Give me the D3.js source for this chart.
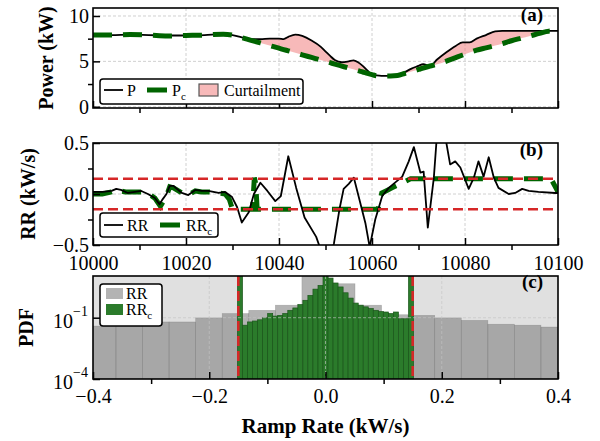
<!DOCTYPE html>
<html>
<head>
<meta charset="utf-8">
<script src="https://cdn.jsdelivr.net/npm/d3@7"></script>
<style>
  body { margin: 0; background: #fff; }
  text { font-family: 'Liberation Serif', 'Times New Roman', serif; }
</style>
</head>
<body>
<div id="chart"></div>
<script>
// ---- data ----
// (a) power and curtailed power, shared time grid (s)
var tP = [10000, 10004, 10008, 10012, 10016, 10020, 10024, 10028, 10030, 10032, 10034, 10036, 10038, 10040,
  10041, 10042, 10043.5, 10045, 10047, 10049, 10050, 10051, 10052, 10053.5, 10055, 10056, 10057, 10058, 10059,
  10060, 10061, 10062, 10064, 10065.5, 10067, 10068.5, 10070, 10071, 10072.5, 10074, 10076, 10078, 10079.5,
  10081, 10082.5, 10084.5, 10086.5, 10088, 10090, 10092, 10094, 10096, 10098, 10100];
var pVals = [7.90, 7.90, 7.95, 7.90, 7.85, 7.85, 7.90, 8.00, 7.90, 7.65, 7.45, 7.45, 7.50, 7.50,
  7.45, 7.70, 7.95, 7.80, 7.30, 6.60, 6.10, 5.60, 5.15, 4.90, 5.00, 5.10, 4.90, 4.50, 4.00,
  3.55, 3.45, 3.40, 3.40, 3.45, 3.80, 4.20, 4.50, 4.70, 4.50, 5.20, 6.00, 6.70, 7.10,
  7.10, 7.50, 7.90, 8.30, 8.35, 8.35, 8.35, 8.35, 8.35, 8.35, 8.35];
var pcVals = [7.90, 7.90, 7.95, 7.90, 7.80, 7.85, 7.90, 8.00, 7.90, 7.62, 7.32, 7.03, 6.74, 6.45,
  6.30, 6.16, 5.94, 5.72, 5.43, 5.14, 5.00, 4.85, 4.70, 4.48, 4.26, 4.12, 3.97, 3.83, 3.68,
  3.54, 3.42, 3.40, 3.40, 3.45, 3.66, 3.88, 4.11, 4.27, 4.49, 4.68, 5.02, 5.41, 5.70,
  5.98, 6.23, 6.49, 6.74, 6.94, 7.27, 7.54, 7.80, 8.08, 8.33, 8.35];

// (b) ramp rates (kW/s)
var tRR = [10000, 10002, 10004, 10005, 10006, 10007.5, 10009, 10010.4, 10011.8, 10013.3, 10014.3, 10015,
  10015.8, 10016.5, 10017.3, 10019.1, 10020.5, 10022, 10023.4, 10024.8, 10027, 10028.4, 10029.9, 10031,
  10032, 10033.5, 10034.6, 10036, 10037.5, 10039.2, 10040.4, 10042, 10043.7, 10045.5, 10048, 10049,
  10050, 10051, 10051.8, 10053, 10053.9, 10055, 10056.1, 10057.1, 10058.6, 10059.5, 10060.7, 10062.2,
  10063.6, 10066.5, 10067.9, 10069, 10070.4, 10071.1, 10072, 10073.3, 10074, 10074.8, 10075.8, 10076.8,
  10077.9, 10079, 10080.8, 10081.9, 10082.9, 10084, 10085.1, 10086.2, 10087.2, 10089.4, 10090.8, 10092.3,
  10093.7, 10095.8, 10099.4, 10100];
var rrVals = [0.02, 0.02, 0.03, 0.05, 0.04, 0.01, 0.02, 0.03, 0.00, -0.04, -0.10, -0.05,
  0.00, 0.08, 0.08, 0.01, -0.01, 0.04, 0.03, 0.03, 0.01, 0.02, -0.03, -0.13,
  -0.28, -0.18, 0.00, 0.11, 0.03, -0.07, -0.02, 0.37, 0.06, -0.23, -0.42, -0.55,
  -0.62, -0.58, -0.49, -0.15, 0.05, 0.10, 0.16, -0.02, -0.29, -0.52, -0.25, -0.02,
  0.06, 0.17, 0.32, 0.46, 0.21, 0.22, -0.33, 0.16, 0.60, 0.75, 0.55, 0.29,
  0.32, 0.26, 0.05, 0.16, 0.32, 0.17, 0.36, 0.16, 0.06, 0.00, 0.01, 0.05,
  0.03, 0.02, 0.01, 0.01];
var tRRc = [10000, 10002, 10004, 10005, 10007, 10009, 10011, 10012, 10013.3, 10014.5, 10015.8, 10016.5,
  10017.3, 10019.1, 10020.5, 10022, 10023.4, 10025, 10027, 10028.4, 10029.3, 10030, 10034.3, 10034.7,
  10035, 10035.3, 10061.3, 10062.1, 10063, 10064.3, 10066.1, 10068.3, 10071.3, 10071.7, 10072.2,
  10098.5, 10100];
var rrcVals = [0.00, 0.00, 0.02, 0.04, 0.02, 0.02, 0.02, 0.00, -0.04, -0.12, -0.02, 0.07,
  0.06, 0.01, -0.01, 0.03, 0.02, 0.02, 0.01, 0.00, -0.05, -0.15, -0.15, 0.16,
  0.10, -0.15, -0.15, 0.01, 0.03, 0.06, 0.10, 0.15, 0.15, 0.13, 0.15,
  0.15, 0.02];
var rrLimit = 0.15;

// (c) histograms (PDF)
var rrEdges = [-0.4063, -0.3605, -0.3148, -0.2691, -0.2234, -0.1777, -0.1320, -0.0863, -0.0406, 0.0051,
  0.0508, 0.0965, 0.1422, 0.1879, 0.2336, 0.2793, 0.3250, 0.3707, 0.4164];
var rrPdf = [0.039, 0.039, 0.062, 0.062, 0.098, 0.16, 0.23, 0.41, 12, 4.6, 0.41, 0.14, 0.13, 0.098,
  0.074, 0.048, 0.043, 0.035];
var rrcEdges = [-0.1515, -0.1428, -0.1342, -0.1255, -0.1169, -0.1082, -0.0995, -0.0909, -0.0822, -0.0736,
  -0.0649, -0.0562, -0.0476, -0.0389, -0.0303, -0.0216, -0.0129, -0.0043, 0.0043, 0.0130, 0.0216, 0.0303,
  0.0389, 0.0476, 0.0563, 0.0649, 0.0736, 0.0822, 0.0909, 0.0995, 0.1082, 0.1169, 0.1255, 0.1342, 0.1428,
  0.1515];
var rrcPdf = [15, 0.043, 0.062, 0.069, 0.079, 0.098, 0.16, 0.12, 0.13, 0.16, 0.23, 0.30, 0.44, 0.71, 1.23,
  2.5, 3.8, 12, 8.7, 5.0, 3.2, 1.66, 0.91, 0.52, 0.41, 0.34, 0.28, 0.23, 0.20, 0.19, 0.16, 0.19, 0.089,
  0.089, 15];

// ---- layout ----
var left = 93, right = 558;
var aTop = 8, aBot = 108, bTop = 143, bBot = 245, cTop = 276, cBot = 379;
var green = "#006400", red = "#d62728";
var serif = "'Liberation Serif', 'Times New Roman', serif";

var svg = d3.select("#chart")
  .append("svg")
  .attr("width", 600)
  .attr("height", 441)
  .style("font-family", serif);

svg.append("rect").attr("width", 600).attr("height", 441).attr("fill", "white");

var x = d3.scaleLinear().domain([10000, 10100]).range([left, right]);
var yA = d3.scaleLinear().domain([-0.14, 10.88]).range([aBot, aTop]);
var yB = d3.scaleLinear().domain([-0.5, 0.5]).range([bBot, bTop]);
var xC = d3.scaleLinear().domain([-0.4, 0.4]).range([left, right]);
var yC = d3.scaleLog().domain([1e-4, 11]).range([cBot, cTop]);

function addClip(id, top, bottom) {
  svg.append("clipPath").attr("id", id)
    .append("rect")
    .attr("x", left).attr("y", top)
    .attr("width", right - left).attr("height", bottom - top);
}
addClip("clipA", aTop, aBot);
addClip("clipB", bTop, bBot);
addClip("clipC", cTop, cBot);

// dashed grid lines
function grid(xs, ys, xv, yv, top, bottom, alpha) {
  var g = svg.append("g")
    .attr("stroke", "#c4c4c4")
    .attr("stroke-width", 0.8)
    .attr("stroke-dasharray", "3,2")
    .attr("opacity", alpha);
  g.selectAll(null).data(xv).enter().append("line")
    .attr("x1", function (d) { return xs(d); })
    .attr("x2", function (d) { return xs(d); })
    .attr("y1", top).attr("y2", bottom);
  g.selectAll(null).data(yv).enter().append("line")
    .attr("x1", left).attr("x2", right)
    .attr("y1", function (d) { return ys(d); })
    .attr("y2", function (d) { return ys(d); });
}

// frame + ticks: major ticks point in, minor ticks point out
function frame(top, bottom, xs, ys, xMajor, xMinor, yMajor, yMinor, xFmt, yFmt, xPad) {
  svg.append("rect")
    .attr("x", left).attr("y", top)
    .attr("width", right - left).attr("height", bottom - top)
    .attr("fill", "none").attr("stroke", "black").attr("stroke-width", 1.6);

  svg.append("g").attr("transform", "translate(0," + bottom + ")")
    .call(d3.axisBottom(xs).tickValues(xMajor).tickSize(-7).tickPadding(xPad || 9)
      .tickFormat(xFmt || function () { return ""; }));
  svg.append("g").attr("transform", "translate(0," + bottom + ")")
    .call(d3.axisBottom(xs).tickValues(xMinor).tickSize(5).tickFormat(""));

  svg.append("g").attr("transform", "translate(" + left + ",0)")
    .call(d3.axisLeft(ys).tickValues(yMajor).tickSize(-7).tickPadding(4)
      .tickFormat(yFmt || function () { return ""; }));
  if (yMinor.length) {
    svg.append("g").attr("transform", "translate(" + left + ",0)")
      .call(d3.axisLeft(ys).tickValues(yMinor).tickSize(5).tickFormat(""));
  }
  svg.selectAll(".domain").remove();
  svg.selectAll(".tick line").attr("stroke", "black").attr("stroke-width", 1.5);
  svg.selectAll(".tick text")
    .style("font-family", serif)
    .attr("font-size", 20).attr("fill", "black");
}

function panelTag(txt, y) {
  svg.append("text").attr("x", 543).attr("y", y).attr("text-anchor", "end")
    .attr("font-size", 19).attr("font-weight", "bold").text(txt);
}

function legendBox(x0, y0, w, h) {
  svg.append("rect").attr("x", x0).attr("y", y0).attr("width", w).attr("height", h)
    .attr("rx", 3).attr("fill", "white").attr("stroke", "black").attr("stroke-width", 1.5);
}

function subText(x0, y0, main, sub) {
  var t = svg.append("text").attr("x", x0).attr("y", y0).attr("font-size", 16);
  t.append("tspan").text(main);
  if (sub) t.append("tspan").attr("font-size", 11).attr("dy", 4).text(sub);
}

var majorT = [10000, 10020, 10040, 10060, 10080, 10100];
var minorT = [10010, 10030, 10050, 10070, 10090];

// ================= (a) =================
grid(x, yA, [10020, 10040, 10060, 10080], [0, 5, 10], aTop, aBot, 1);

var gA = svg.append("g").attr("clip-path", "url(#clipA)");
var idx = d3.range(tP.length);

gA.append("path")
  .datum(idx)
  .attr("fill", "lightcoral")
  .attr("fill-opacity", 0.55)
  .attr("d", d3.area()
    .curve(d3.curveMonotoneX)
    .x(function (i) { return x(tP[i]); })
    .y0(function (i) { return yA(pcVals[i]); })
    .y1(function (i) { return yA(pVals[i]); }));

gA.append("path")
  .datum(idx)
  .attr("fill", "none").attr("stroke", "black").attr("stroke-width", 1.8)
  .attr("d", d3.line().curve(d3.curveMonotoneX)
    .x(function (i) { return x(tP[i]); })
    .y(function (i) { return yA(pVals[i]); }));

gA.append("path")
  .datum(idx)
  .attr("fill", "none").attr("stroke", green).attr("stroke-width", 5)
  .attr("stroke-dasharray", "19,11")
  .attr("d", d3.line().curve(d3.curveMonotoneX)
    .x(function (i) { return x(tP[i]); })
    .y(function (i) { return yA(pcVals[i]); }));

frame(aTop, aBot, x, yA, majorT, minorT, [0, 5, 10], [2.5, 7.5], null, d3.format("d"));
panelTag("(a)", 21);

svg.append("text")
  .attr("transform", "translate(53," + ((aTop + aBot) / 2) + ") rotate(-90)")
  .attr("text-anchor", "middle").attr("font-size", 20).attr("font-weight", "bold")
  .text("Power (kW)");

legendBox(100, 79, 203, 25);
svg.append("line").attr("x1", 104).attr("x2", 123).attr("y1", 90).attr("y2", 90)
  .attr("stroke", "black").attr("stroke-width", 1.8);
subText(127, 96, "P");
svg.append("line").attr("x1", 147).attr("x2", 167).attr("y1", 90).attr("y2", 90)
  .attr("stroke", green).attr("stroke-width", 5);
subText(172, 96, "P", "c");
svg.append("rect").attr("x", 199).attr("y", 84).attr("width", 19).attr("height", 12)
  .attr("fill", "lightcoral").attr("fill-opacity", 0.55)
  .attr("stroke", "#555").attr("stroke-width", 1.2);
subText(224, 96, "Curtailment");

// ================= (b) =================
grid(x, yB, [10020, 10040, 10060, 10080], [0], bTop, bBot, 1);

var gB = svg.append("g").attr("clip-path", "url(#clipB)");

gB.append("path")
  .datum(d3.range(tRRc.length))
  .attr("fill", "none").attr("stroke", green).attr("stroke-width", 5)
  .attr("stroke-dasharray", "19,11")
  .attr("d", d3.line()
    .x(function (i) { return x(tRRc[i]); })
    .y(function (i) { return yB(rrcVals[i]); }));

gB.append("path")
  .datum(d3.range(tRR.length))
  .attr("fill", "none").attr("stroke", "black").attr("stroke-width", 1.8)
  .attr("stroke-linejoin", "round")
  .attr("d", d3.line()
    .x(function (i) { return x(tRR[i]); })
    .y(function (i) { return yB(rrVals[i]); }));

gB.selectAll(null).data([rrLimit, -rrLimit]).enter().append("line")
  .attr("x1", left).attr("x2", right)
  .attr("y1", function (d) { return yB(d); })
  .attr("y2", function (d) { return yB(d); })
  .attr("stroke", red).attr("stroke-width", 2.4).attr("stroke-dasharray", "10,5");

frame(bTop, bBot, x, yB, majorT, minorT, [-0.5, 0, 0.5], [-0.25, 0.25], d3.format("d"), d3.format(".1f"), 11);
panelTag("(b)", 156);

svg.append("text")
  .attr("transform", "translate(35," + ((bTop + bBot) / 2) + ") rotate(-90)")
  .attr("text-anchor", "middle").attr("font-size", 20).attr("font-weight", "bold")
  .text("RR (kW/s)");

legendBox(100, 213, 118, 24);
svg.append("line").attr("x1", 104).attr("x2", 123).attr("y1", 225).attr("y2", 225)
  .attr("stroke", "black").attr("stroke-width", 1.8);
subText(127, 231, "RR");
svg.append("line").attr("x1", 160).attr("x2", 180).attr("y1", 225).attr("y2", 225)
  .attr("stroke", green).attr("stroke-width", 5);
subText(186, 231, "RR", "c");

// ================= (c) =================
var gC = svg.append("g").attr("clip-path", "url(#clipC)");

// shaded regions beyond the ramp limit
gC.selectAll(null).data([[-0.4, -rrLimit], [rrLimit, 0.4]]).enter().append("rect")
  .attr("x", function (d) { return xC(d[0]); })
  .attr("width", function (d) { return xC(d[1]) - xC(d[0]); })
  .attr("y", cTop).attr("height", cBot - cTop)
  .attr("fill", "lightgray").attr("fill-opacity", 0.7);

gC.selectAll(null).data(rrPdf).enter().append("rect")
  .attr("x", function (d, i) { return xC(rrEdges[i]); })
  .attr("width", function (d, i) { return xC(rrEdges[i + 1]) - xC(rrEdges[i]); })
  .attr("y", function (d) { return yC(d); })
  .attr("height", function (d) { return cBot - yC(d); })
  .attr("fill", "gray").attr("fill-opacity", 0.6)
  .attr("stroke", "#555").attr("stroke-opacity", 0.3).attr("stroke-width", 0.6);

gC.selectAll(null).data(rrcPdf).enter().append("rect")
  .attr("x", function (d, i) { return xC(rrcEdges[i]); })
  .attr("width", function (d, i) { return xC(rrcEdges[i + 1]) - xC(rrcEdges[i]); })
  .attr("y", function (d) { return yC(d); })
  .attr("height", function (d) { return cBot - yC(d); })
  .attr("fill", "#2b7b2b")
  .attr("stroke", "#1b561b").attr("stroke-width", 0.7);

grid(xC, yC, [-0.2, 0, 0.2], [1e-1], cTop, cBot, 0.8);

gC.selectAll(null).data([-rrLimit, rrLimit]).enter().append("line")
  .attr("x1", function (d) { return xC(d); })
  .attr("x2", function (d) { return xC(d); })
  .attr("y1", cTop).attr("y2", cBot)
  .attr("stroke", red).attr("stroke-width", 2.6).attr("stroke-dasharray", "10,5");

frame(cTop, cBot, xC, yC, [-0.4, -0.2, 0, 0.2, 0.4], [-0.3, -0.1, 0.1, 0.3], [1e-4, 1e-1], [],
  d3.format(".1f"), null, 10);

// log tick labels 10^-4, 10^-1
[[1e-1, "\u22121"], [1e-4, "\u22124"]].forEach(function (d) {
  var t = svg.append("text").attr("x", 88).attr("y", yC(d[0]) + 10)
    .attr("text-anchor", "end").attr("font-size", 20);
  t.append("tspan").text("10");
  t.append("tspan").attr("font-size", 14).attr("dy", -12).text(d[1]);
});

panelTag("(c)", 288);

svg.append("text")
  .attr("transform", "translate(33," + ((cTop + cBot) / 2) + ") rotate(-90)")
  .attr("text-anchor", "middle").attr("font-size", 20).attr("font-weight", "bold")
  .text("PDF");

svg.append("text")
  .attr("x", (left + right) / 2).attr("y", 433)
  .attr("text-anchor", "middle").attr("font-size", 21).attr("font-weight", "bold")
  .text("Ramp Rate (kW/s)");

legendBox(100, 284, 62, 42);
svg.append("rect").attr("x", 106).attr("y", 288).attr("width", 17).attr("height", 11)
  .attr("fill", "gray").attr("fill-opacity", 0.6);
subText(126, 299, "RR");
svg.append("rect").attr("x", 106).attr("y", 304).attr("width", 17).attr("height", 11)
  .attr("fill", "#2b7b2b");
subText(126, 315, "RR", "c");
</script>
</body>
</html>
